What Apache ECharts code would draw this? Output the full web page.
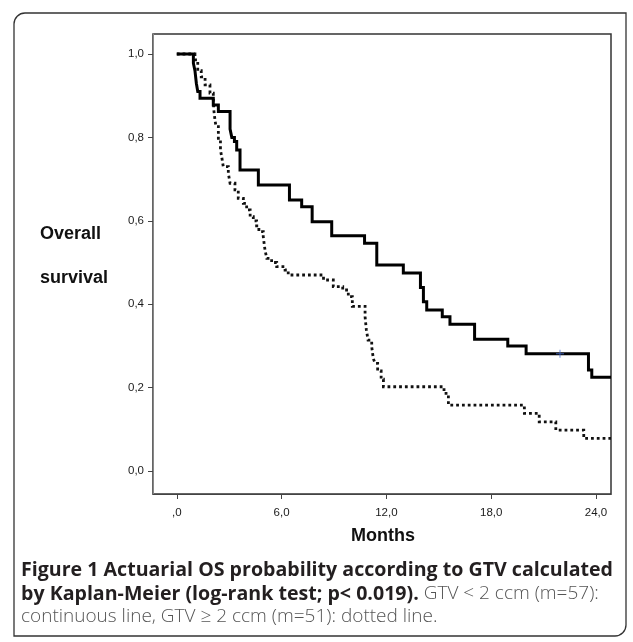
<!DOCTYPE html>
<html>
<head>
<meta charset="utf-8">
<script src="https://cdn.jsdelivr.net/npm/echarts@6/dist/echarts.min.js"></script>
<style>
html,body{margin:0;padding:0;background:#fff;}
#chart{width:633px;height:642px;}
</style>
</head>
<body>
<div id="chart"></div>
<script>
// Kaplan-Meier curves: [months, survival probability]
const gtvSmall = [
  [0,1.0],[0.95,0.978],[1.04,0.96],[1.12,0.93],[1.2,0.91],[1.33,0.894],[2.09,0.878],[2.38,0.862],
  [3.05,0.82],[3.15,0.80],[3.3,0.79],[3.43,0.77],[3.62,0.722],[4.67,0.686],[6.45,0.65],
  [7.15,0.634],[7.75,0.598],[8.87,0.564],[10.75,0.546],[11.45,0.494],[12.97,0.475],
  [13.95,0.44],[14.12,0.406],[14.31,0.386],[15.2,0.37],[15.64,0.352],[17.05,0.316],
  [18.95,0.30],[20.0,0.281],[23.57,0.242],[23.76,0.225],[24.86,0.225]
];
const gtvLarge = [
  [0,1.0],[1.04,0.986],[1.2,0.96],[1.4,0.945],[1.62,0.926],[1.9,0.906],[2.09,0.89],[2.12,0.866],
  [2.19,0.84],[2.25,0.826],[2.38,0.794],[2.5,0.77],[2.57,0.754],[2.66,0.73],[2.95,0.714],
  [3.05,0.69],[3.33,0.674],[3.52,0.654],[3.81,0.642],[4.0,0.626],[4.2,0.61],[4.38,0.6],
  [4.57,0.588],[4.7,0.574],[4.95,0.562],[5.0,0.546],[5.05,0.53],[5.15,0.51],[5.43,0.5],
  [5.72,0.49],[6.2,0.482],[6.38,0.47],[8.4,0.458],[8.96,0.442],[9.5,0.434],[9.82,0.418],
  [10.05,0.395],[10.78,0.37],[10.85,0.34],[10.95,0.314],[11.16,0.298],[11.25,0.27],
  [11.35,0.258],[11.5,0.24],[11.7,0.22],[11.83,0.202],[15.3,0.186],[15.55,0.158],
  [19.9,0.138],[20.75,0.118],[21.7,0.098],[23.3,0.078],[24.86,0.078]
];
const censored = [[21.94,0.281]];
const xTicks = [0,6,12,18,24];
const xTickLabels = [',0','6,0','12,0','18,0','24,0'];
const yTicks = [0,0.2,0.4,0.6,0.8,1.0];
const yTickLabels = ['0,0','0,2','0,4','0,6','0,8','1,0'];

const chart = echarts.init(document.getElementById('chart'), null, {renderer:'canvas'});
const labelFont = 'Liberation Sans, Arial, sans-serif';
const capFont = '"Open Sans", "Noto Sans", sans-serif';

chart.setOption({
  animation:false,
  backgroundColor:'#fff',
  grid:{left:153, top:34, right:22, bottom:148, show:true, borderColor:'#333', borderWidth:1.5, outerBoundsMode:'none'},
  xAxis:{
    type:'value', min:-1.362, max:24.86,
    splitLine:{show:false},
    axisLine:{show:true, onZero:false, lineStyle:{color:'#444', width:1}},
    axisTick:{show:true, length:5, lineStyle:{color:'#444'}, customValues:xTicks},
    axisLabel:{color:'#1a1a1a', fontFamily:labelFont, fontSize:11.5, margin:13, customValues:xTicks,
      formatter:(v)=>{const i=xTicks.indexOf(v);return i>=0?xTickLabels[i]:'';}}
  },
  yAxis:{
    type:'value', min:-0.0552, max:1.048,
    splitLine:{show:false},
    axisLine:{show:true, onZero:false, lineStyle:{color:'#888', width:1}},
    axisTick:{show:true, length:5, lineStyle:{color:'#444'}, customValues:yTicks},
    axisLabel:{color:'#1a1a1a', fontFamily:labelFont, fontSize:11.5, margin:9, customValues:yTicks,
      formatter:(v)=>{let best=-1;yTicks.forEach((t,i)=>{if(Math.abs(t-v)<1e-6)best=i;});return best>=0?yTickLabels[best]:'';}}
  },
  series:[
    {type:'line', step:'end', data:gtvLarge, symbol:'none', z:2,
     lineStyle:{color:'#111', width:2.8, type:[2.8,3], cap:'butt', join:'miter'}},
    {type:'line', step:'end', data:gtvSmall, symbol:'none', z:3,
     lineStyle:{color:'#000', width:3, cap:'butt', join:'miter'}},
    {type:'scatter', data:censored, z:4, symbolSize:8,
     symbol:'path://M3.5,0L4.5,0L4.5,3.5L8,3.5L8,4.5L4.5,4.5L4.5,8L3.5,8L3.5,4.5L0,4.5L0,3.5L3.5,3.5Z',
     itemStyle:{color:'#4a6fd0'}}
  ],
  graphic:[
    {type:'rect', shape:{x:14, y:13, width:612, height:623, r:[11,0,11,0]},
     style:{fill:'none', stroke:'#333', lineWidth:1.3}, z:-1},
    {type:'text', left:40, top:225, style:{text:'Overall', font:'bold 18px '+labelFont, fill:'#111'}},
    {type:'text', left:40, top:269, style:{text:'survival', font:'bold 18px '+labelFont, fill:'#111'}},
    {type:'text', x:383, y:536, style:{text:'Months', font:'bold 18px '+labelFont, fill:'#111', align:'center', verticalAlign:'middle'}},
    {type:'text', x:21, y:570, style:{
      text:'{b|Figure 1 Actuarial OS probability according to GTV calculated}',
      verticalAlign:'middle',
      rich:{b:{font:'bold 19.6px '+capFont, fill:'#231f20'}}}},
    {type:'text', x:21, y:594, style:{
      text:'{b|by Kaplan-Meier (log-rank test; p< 0.019).}{r| GTV < 2 ccm (m=57):}',
      verticalAlign:'middle',
      rich:{b:{font:'bold 19.6px '+capFont, fill:'#231f20'}, r:{font:'300 19px '+capFont, fill:'#555'}}}},
    {type:'text', x:21, y:617, style:{
      text:'{r|continuous line, GTV ≥ 2 ccm (m=51): dotted line.}',
      verticalAlign:'middle',
      rich:{r:{font:'300 19px '+capFont, fill:'#555'}}}}
  ]
});
</script>
</body>
</html>
